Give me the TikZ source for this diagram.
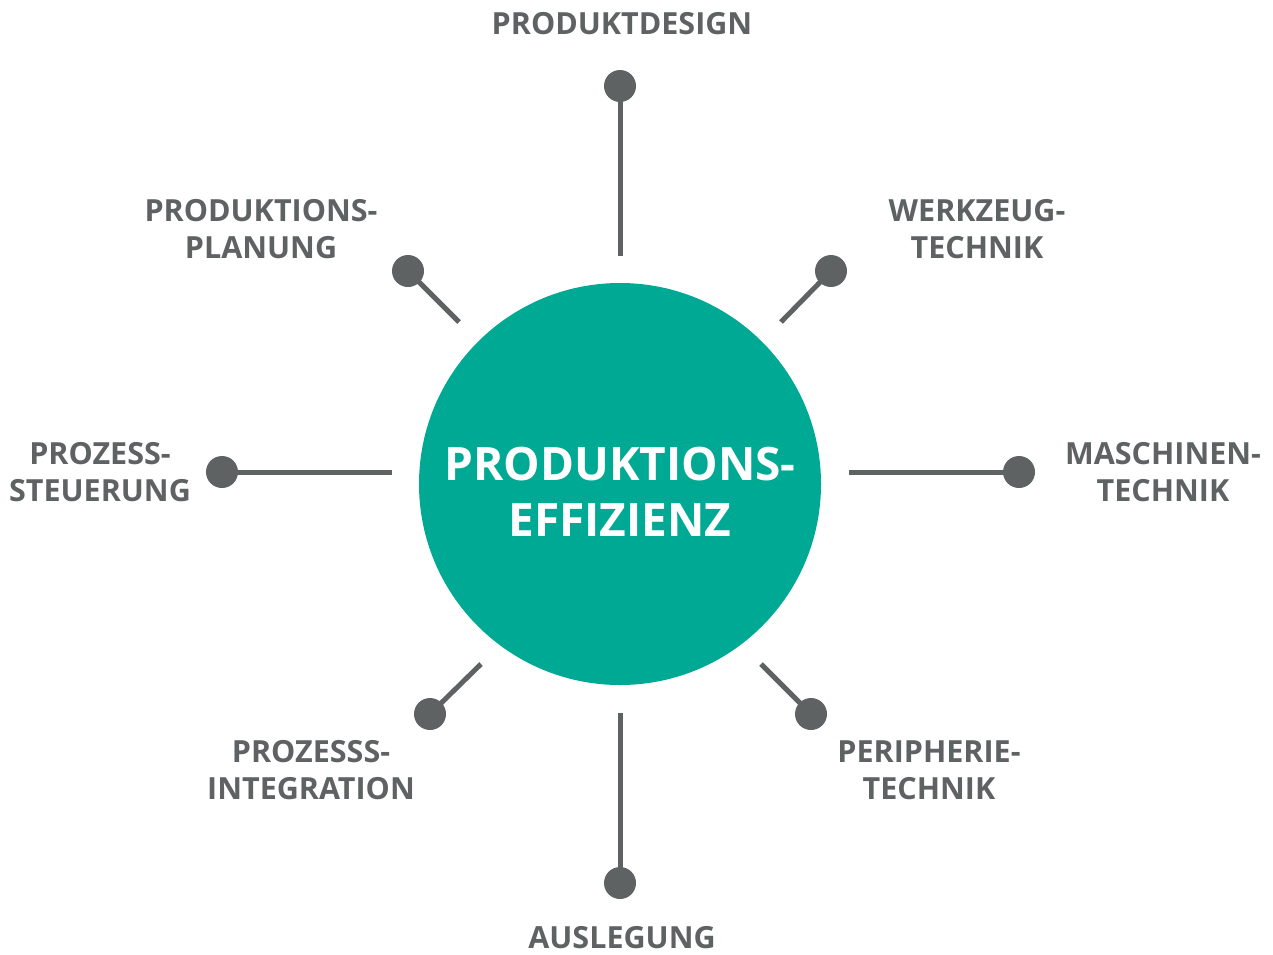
\documentclass[tikz,border=0pt]{standalone}
\usepackage{fontspec}
\setmainfont{Open Sans}
\definecolor{teal1}{HTML}{00A994}
\definecolor{grey1}{HTML}{5F6263}
\begin{document}
\begin{tikzpicture}[x=1pt,y=-1pt,
  lbl/.style={text=grey1,font=\fontsize{30.5}{37}\selectfont\bfseries,align=center,inner sep=0pt},
  dot/.style={circle,fill=grey1,minimum size=32pt,inner sep=0pt},
  spoke/.style={draw=grey1,line width=5pt},
  hub/.style={circle,fill=teal1,minimum size=402pt,inner sep=0pt}]
\useasboundingbox (0,0) rectangle (1273,954);
\node[hub] (hub) at (620,484) {};
\node[text=white,align=center,font=\fontsize{46}{56}\selectfont\bfseries,inner sep=0pt] (hubtext) at (620,492) {PRODUKTIONS-\\EFFIZIENZ};
% dots
\node[dot] (dN) at (620,86) {};
\node[dot] (dNW) at (408,271) {};
\node[dot] (dNE) at (831,271) {};
\node[dot] (dW) at (222,472) {};
\node[dot] (dE) at (1019,472) {};
\node[dot] (dSW) at (430,714) {};
\node[dot] (dSE) at (811,714) {};
\node[dot] (dS) at (620,883) {};
% inner ends
\coordinate (eN) at (620,256);
\coordinate (eNW) at (459,322);
\coordinate (eNE) at (781,322);
\coordinate (eW) at (392,472);
\coordinate (eE) at (849,472);
\coordinate (eSW) at (481,664);
\coordinate (eSE) at (761,664);
\coordinate (eS) at (620,713);
\foreach \d in {N,NW,NE,W,E,SW,SE,S}{\draw[spoke] (d\d.center) -- (e\d);}
% labels
\node[lbl] (lN) at (622,24) {PRODUKTDESIGN};
\node[lbl] (lNW) at (261,229) {PRODUKTIONS-\\PLANUNG};
\node[lbl] (lNE) at (977,229) {WERKZEUG-\\TECHNIK};
\node[lbl] (lW) at (100,472) {PROZESS-\\STEUERUNG};
\node[lbl] (lE) at (1163,472) {MASCHINEN-\\TECHNIK};
\node[lbl] (lSW) at (311,770) {PROZESSS-\\INTEGRATION};
\node[lbl] (lSE) at (929,770) {PERIPHERIE-\\TECHNIK};
\node[lbl] (lS) at (622,938) {AUSLEGUNG};
\end{tikzpicture}
\end{document}
